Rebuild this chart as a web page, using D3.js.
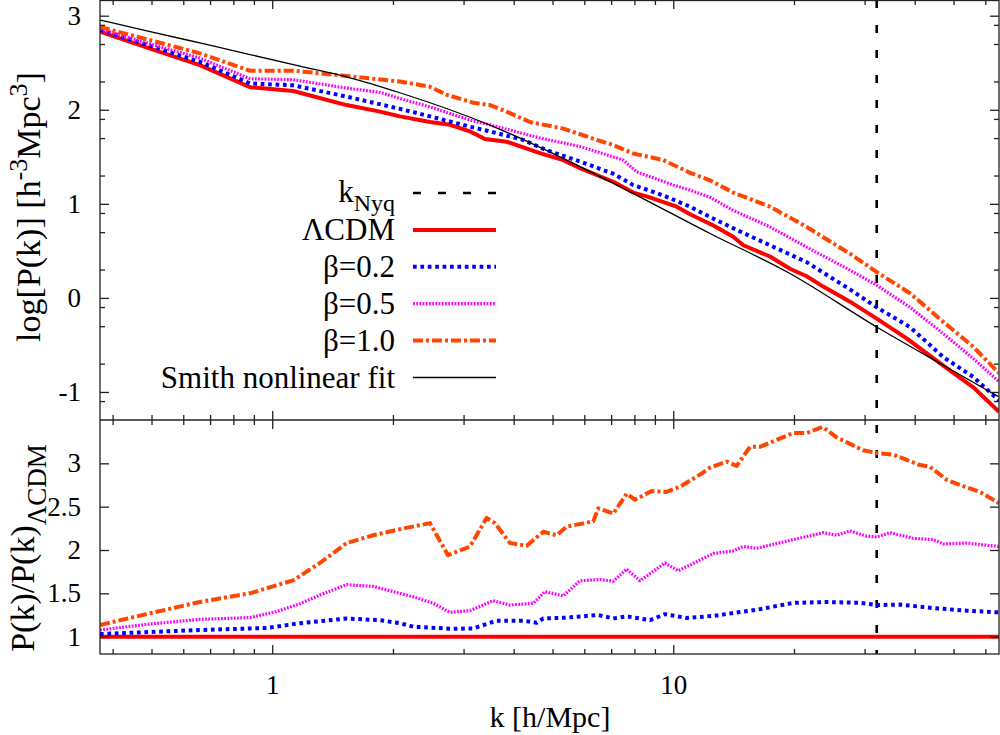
<!DOCTYPE html>
<head>
<meta charset='utf-8'>
<style>
  body { margin: 0; background: #fff; }
  text { font-family: 'Liberation Serif', 'Tinos', 'Times New Roman', 'DejaVu Serif', serif; fill: #000; }
  .axis path { display: none; }
  .axis line { stroke: #222; stroke-width: 1.3px; }
  .axis text { font-size: 27px; font-family: 'Liberation Serif', 'Tinos', 'Times New Roman', 'DejaVu Serif', serif; }
  .frame { fill: none; stroke: #222; stroke-width: 1.3px; }
</style>
</head>
<body>
<div id='vis'></div>
<script src='https://cdn.jsdelivr.net/npm/d3@7'></script>
<script>
// axes
const kRange = [0.372, 64.9]
const kNyq = 32.16
const xMajor = [1, 10]
const xMinor = [0.4, 0.5, 0.6, 0.7, 0.8, 0.9, 2, 3, 4, 5, 6, 7, 8, 9, 20, 30, 40, 50, 60]
const yTopRange = [-1.298, 3.167]
const yTopMajor = [-1, 0, 1, 2, 3]
const yTopMinor = [2.903, 2.699, 2.301, 1.903, 1.699, 1.301, 0.903, 0.699, 0.301, -0.097, -0.301, -0.699, -1.097]
const yBotRange = [0.80, 3.50]
const yBotMajor = [1, 1.5, 2, 2.5, 3]

// top panel: log P(k)
const kLcdmTop = [0.372,0.496,0.660,0.880,1.128,1.533,1.856,2.082,2.474,2.774,3.112,3.392,3.842,4.651,5.317,5.852,7.085,7.947,8.584,10.20,11.01,12.59,14.11,14.95,17.42,19.54,21.51,23.66,27.58,32.16,38.19,47.14,55.99,64.9]
const pLcdm = [2.83,2.65,2.475,2.24,2.20,2.05,1.98,1.93,1.87,1.84,1.77,1.69,1.66,1.54,1.465,1.38,1.235,1.12,1.08,0.97,0.89,0.77,0.65,0.56,0.44,0.31,0.23,0.12,-0.04,-0.22,-0.43,-0.72,-0.95,-1.21]

const kB02Top = [0.372,0.496,0.660,0.880,1.128,1.533,2.082,2.474,3.112,3.490,4.226,4.834,5.852,7.085,7.947,9.443,11.01,12.35,14.11,17.42,21.51,27.58,32.16,38.93,47.14,55.99,64.9]
const pB02 = [2.85,2.68,2.51,2.28,2.26,2.14,2.01,1.93,1.82,1.77,1.68,1.57,1.45,1.32,1.20,1.09,0.97,0.86,0.74,0.56,0.38,0.09,-0.10,-0.31,-0.63,-0.84,-1.09]

const kB05Top = [0.372,0.496,0.660,0.880,1.128,1.533,1.856,2.082,2.474,3.112,3.490,4.651,5.852,7.505,8.105,10.0,11.01,12.35,14.11,17.42,21.51,27.58,32.16,38.93,47.14,55.99,64.9]
const pB05 = [2.86,2.70,2.55,2.33,2.32,2.23,2.185,2.12,2.03,1.89,1.84,1.70,1.61,1.465,1.34,1.20,1.146,1.07,0.93,0.755,0.54,0.295,0.135,-0.10,-0.38,-0.645,-0.89]

const kB10Top = [0.372,0.496,0.660,0.880,1.128,1.533,2.082,2.474,2.722,3.171,3.490,3.842,4.392,5.317,6.442,7.085,7.947,9.443,11.01,12.35,14.11,17.42,21.51,27.58,32.16,38.93,47.14,55.99,64.9]
const pB10 = [2.88,2.74,2.60,2.415,2.415,2.36,2.30,2.245,2.16,2.075,2.05,1.98,1.87,1.80,1.68,1.625,1.535,1.465,1.33,1.25,1.12,0.97,0.755,0.47,0.275,0.05,-0.255,-0.52,-0.80]

const kSmith = [0.372,0.496,0.660,0.880,1.172,1.533,2.082,3.490,5.218,7.798,12.35,19.54,32.16,47.14,64.9]
const pSmith = [2.954,2.832,2.710,2.587,2.465,2.351,2.181,1.837,1.500,1.128,0.685,0.260,-0.309,-0.716,-1.053]

// bottom panel: P(k)/P(k)_LCDM
const kLcdmRatio = [0.372, 64.9]
const rLcdm = [1, 1]

const kB02Ratio = [0.372,0.660,0.968,1.172,1.533,1.856,2.082,2.247,2.828,3.171,3.627,4.226,4.564,4.741,5.422,6.501,7.085,7.653,8.748,9.535,10.80,12.59,16.14,19.92,24.13,29.21,32.16,36.76,44.49,53.92,64.9]
const rB02 = [1.03,1.077,1.10,1.155,1.21,1.19,1.155,1.115,1.09,1.095,1.185,1.185,1.16,1.21,1.22,1.25,1.21,1.235,1.19,1.26,1.215,1.24,1.31,1.39,1.40,1.39,1.365,1.37,1.33,1.30,1.28]

const kB05Ratio = [0.372,0.496,0.660,0.880,1.026,1.172,1.315,1.533,1.786,2.082,2.247,2.521,2.774,3.112,3.557,3.916,4.476,4.786,5.317,5.852,6.564,7.085,7.653,8.260,9.535,10.29,12.59,14.11,14.95,16.14,19.92,23.66,25.55,27.58,30.36,32.16,34.71,39.67,44.49,47.14,53.92,64.9]
const rB05 = [1.077,1.146,1.20,1.22,1.29,1.38,1.48,1.60,1.58,1.50,1.46,1.385,1.28,1.30,1.415,1.365,1.385,1.52,1.47,1.645,1.66,1.64,1.78,1.645,1.85,1.76,1.96,1.99,2.04,2.02,2.12,2.20,2.17,2.22,2.16,2.15,2.20,2.135,2.12,2.07,2.08,2.04]

const kB10Ratio = [0.372,0.496,0.660,0.880,1.004,1.128,1.315,1.533,1.786,2.082,2.474,2.743,3.112,3.425,3.592,3.916,4.310,4.741,5.119,5.422,6.316,6.501,7.085,7.653,8.025,8.83,9.627,10.39,11.66,12.35,13.59,14.39,15.54,16.45,19.92,21.51,23.59,25.55,29.77,32.16,35.37,41.22,43.65,48.07,51.88,58.19,64.9]
const rB10 = [1.135,1.27,1.40,1.50,1.58,1.65,1.85,2.08,2.17,2.24,2.31,1.94,2.04,2.37,2.31,2.08,2.05,2.21,2.17,2.27,2.33,2.48,2.42,2.65,2.58,2.68,2.67,2.73,2.87,2.95,3.02,2.97,3.19,3.19,3.35,3.35,3.42,3.30,3.15,3.12,3.10,2.98,2.96,2.81,2.75,2.67,2.54]

const legendNames = ['ΛCDM', 'β=0.2', 'β=0.5', 'β=1.0', 'Smith nonlinear fit']

const styles = {
  nyq:   {color: '#000000', width: 2.6, dash: '8,17'},
  lcdm:  {color: '#ff0000', width: 4,   dash: null},
  b02:   {color: '#0000ff', width: 4,   dash: '3.7,3.7'},
  b05:   {color: '#ff00ff', width: 3.2, dash: '1.8,1.4'},
  b10:   {color: '#ff4500', width: 4,   dash: '10,3,3,3'},
  smith: {color: '#000000', width: 1.3, dash: null}
}

const L = 100, R = 999, MID = 420, B = 654

const svg = d3.select('#vis').append('svg')
  .attr('width', 1000)
  .attr('height', 735)
  .style('background', '#fff')

const x = d3.scaleLog().domain(kRange).range([L, R])
const yTop = d3.scaleLinear().domain(yTopRange).range([MID, 0])
const yBot = d3.scaleLinear().domain(yBotRange).range([B, MID])

const defs = svg.append('defs')
defs.append('clipPath').attr('id', 'clipTop').append('rect')
  .attr('x', L).attr('y', 0).attr('width', R - L).attr('height', MID)
defs.append('clipPath').attr('id', 'clipBot').append('rect')
  .attr('x', L).attr('y', MID).attr('width', R - L).attr('height', B - MID)

function styled(sel, st) {
  return sel.attr('fill', 'none')
    .attr('stroke', st.color)
    .attr('stroke-width', st.width)
    .attr('stroke-dasharray', st.dash)
    .attr('stroke-linejoin', 'round')
}

function drawLine(g, ks, vs, yScale, st, curve) {
  const pts = ks.map((k, i) => [k, vs[i]])
  const line = d3.line().x(d => x(d[0])).y(d => yScale(d[1]))
  if (curve) line.curve(curve)
  styled(g.append('path').datum(pts).attr('d', line), st)
}

// k_Nyq marker through both panels
styled(svg.append('line')
  .attr('x1', x(kNyq)).attr('x2', x(kNyq))
  .attr('y1', 0).attr('y2', B), styles.nyq)

// top panel curves
const gTop = svg.append('g').attr('clip-path', 'url(#clipTop)')
drawLine(gTop, kLcdmTop, pLcdm, yTop, styles.lcdm)
drawLine(gTop, kB02Top, pB02, yTop, styles.b02)
drawLine(gTop, kB05Top, pB05, yTop, styles.b05)
drawLine(gTop, kB10Top, pB10, yTop, styles.b10)
drawLine(gTop, kSmith, pSmith, yTop, styles.smith, d3.curveMonotoneX)

// bottom panel curves
const gBot = svg.append('g').attr('clip-path', 'url(#clipBot)')
drawLine(gBot, kLcdmRatio, rLcdm, yBot, styles.lcdm)
drawLine(gBot, kB02Ratio, rB02, yBot, styles.b02)
drawLine(gBot, kB05Ratio, rB05, yBot, styles.b05)
drawLine(gBot, kB10Ratio, rB10, yBot, styles.b10)

// frame
svg.append('rect').attr('class', 'frame')
  .attr('x', L).attr('y', 0.5).attr('width', R - L).attr('height', B - 0.5)
svg.append('line').attr('class', 'frame')
  .attr('x1', L).attr('x2', R).attr('y1', MID).attr('y2', MID)

function tickGroup(axis, tr) {
  svg.append('g').attr('class', 'axis').attr('transform', tr).call(axis)
}

// x ticks on every horizontal border, pointing into the panels
;[[d3.axisBottom, 0], [d3.axisTop, MID], [d3.axisBottom, MID], [d3.axisTop, B]].forEach(([fn, yy]) => {
  tickGroup(fn(x).tickValues(xMajor).tickSize(9).tickFormat(''), `translate(0,${yy})`)
  tickGroup(fn(x).tickValues(xMinor).tickSize(5).tickFormat(''), `translate(0,${yy})`)
})
tickGroup(d3.axisBottom(x).tickValues(xMajor).tickSize(0).tickPadding(21)
  .tickFormat(d3.format('d')), `translate(0,${B})`)

// y ticks
tickGroup(d3.axisRight(yTop).tickValues(yTopMajor).tickSize(9).tickFormat(''), `translate(${L},0)`)
tickGroup(d3.axisRight(yTop).tickValues(yTopMinor).tickSize(5).tickFormat(''), `translate(${L},0)`)
tickGroup(d3.axisLeft(yTop).tickValues(yTopMajor).tickSize(9).tickFormat(''), `translate(${R},0)`)
tickGroup(d3.axisLeft(yTop).tickValues(yTopMinor).tickSize(5).tickFormat(''), `translate(${R},0)`)
tickGroup(d3.axisLeft(yTop).tickValues(yTopMajor).tickSize(0).tickPadding(19)
  .tickFormat(d => String(d)), `translate(${L},0)`)

tickGroup(d3.axisRight(yBot).tickValues(yBotMajor).tickSize(9).tickFormat(''), `translate(${L},0)`)
tickGroup(d3.axisLeft(yBot).tickValues(yBotMajor).tickSize(9).tickFormat(''), `translate(${R},0)`)
tickGroup(d3.axisLeft(yBot).tickValues(yBotMajor).tickSize(0).tickPadding(19)
  .tickFormat(d => String(d)), `translate(${L},0)`)

// axis titles
svg.append('text')
  .attr('x', 550).attr('y', 727)
  .attr('text-anchor', 'middle')
  .style('font-size', '30px')
  .text('k [h/Mpc]')

const yt = svg.append('text')
  .attr('transform', 'translate(40,207) rotate(-90)')
  .attr('text-anchor', 'middle')
  .style('font-size', '34px')
yt.append('tspan').text('log[P(k)] [h')
yt.append('tspan').attr('dy', -13).style('font-size', '26px').text('-3')
yt.append('tspan').attr('dy', 13).text('Mpc')
yt.append('tspan').attr('dy', -13).style('font-size', '26px').text('3')
yt.append('tspan').attr('dy', 13).text(']')

const yb = svg.append('text')
  .attr('transform', 'translate(34,548) rotate(-90)')
  .attr('text-anchor', 'middle')
  .style('font-size', '34px')
yb.append('tspan').text('P(k)/P(k)')
yb.append('tspan').attr('dy', 12).style('font-size', '27px').text('ΛCDM')

// legend
const legX = 395, sampleX0 = 413, sampleX1 = 496, legY0 = 193, legStep = 36.9
const legend = svg.append('g')

const nyqText = legend.append('text')
  .attr('x', legX).attr('y', legY0 + 9)
  .attr('text-anchor', 'end')
  .style('font-size', '31px')
nyqText.append('tspan').text('k')
nyqText.append('tspan').attr('dy', 9).style('font-size', '24px').text('Nyq')
styled(legend.append('line')
  .attr('x1', sampleX0).attr('x2', sampleX1)
  .attr('y1', legY0).attr('y2', legY0), styles.nyq)

const legStyles = [styles.lcdm, styles.b02, styles.b05, styles.b10, styles.smith]
legendNames.forEach((name, i) => {
  const yy = legY0 + legStep * (i + 1)
  legend.append('text')
    .attr('x', legX).attr('y', yy + 10)
    .attr('text-anchor', 'end')
    .style('font-size', '31px')
    .text(name)
  styled(legend.append('line')
    .attr('x1', sampleX0).attr('x2', sampleX1)
    .attr('y1', yy).attr('y2', yy), legStyles[i])
})
</script>
</body>
